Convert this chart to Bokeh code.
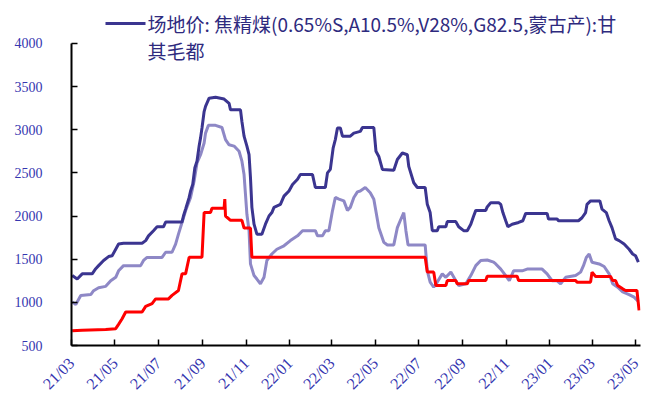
import math
import pandas as pd
from bokeh.plotting import figure
from bokeh.models import (Range1d, FixedTicker, DatetimeTickFormatter, Label, BoxAnnotation)
from bokeh.embed import file_html
from bokeh.resources import INLINE

legend_line1 = "场地价: 焦精煤(0.65%S,A10.5%,V28%,G82.5,蒙古产):甘"
legend_line2 = "其毛都"

tick_dates = ["2021-03-01", "2021-05-01", "2021-07-01", "2021-09-01", "2021-11-01",
              "2022-01-01", "2022-03-01", "2022-05-01", "2022-07-01", "2022-09-01",
              "2022-11-01", "2023-01-01", "2023-03-01", "2023-05-01"]
y_ticks = [500, 1000, 1500, 2000, 2500, 3000, 3500, 4000]

# 场地价 甘其毛都 (dark)
dark_dates = ["2021-03-02", "2021-03-09", "2021-03-16", "2021-03-30", "2021-04-04", "2021-04-08",
              "2021-04-15", "2021-04-22", "2021-04-27", "2021-05-02", "2021-05-06", "2021-05-13",
              "2021-06-08", "2021-06-13", "2021-06-17", "2021-06-24", "2021-06-29", "2021-07-08",
              "2021-07-11", "2021-08-03", "2021-08-05", "2021-08-08", "2021-08-13", "2021-08-15",
              "2021-08-18", "2021-08-21", "2021-08-24", "2021-08-27", "2021-08-29", "2021-08-31",
              "2021-09-03", "2021-09-05", "2021-09-10", "2021-09-19", "2021-10-01", "2021-10-08",
              "2021-10-10", "2021-10-24", "2021-10-26", "2021-10-29", "2021-11-02", "2021-11-05",
              "2021-11-07", "2021-11-09", "2021-11-12", "2021-11-16", "2021-11-23", "2021-11-28",
              "2021-12-03", "2021-12-07", "2021-12-10", "2021-12-19", "2021-12-24", "2021-12-31",
              "2022-01-05", "2022-01-12", "2022-01-16", "2022-02-02", "2022-02-06", "2022-02-20",
              "2022-02-23", "2022-02-27", "2022-03-03", "2022-03-06", "2022-03-09", "2022-03-13",
              "2022-03-16", "2022-03-27", "2022-04-01", "2022-04-10", "2022-04-13", "2022-04-29",
              "2022-05-02", "2022-05-06", "2022-05-11", "2022-05-27", "2022-06-01", "2022-06-08",
              "2022-06-15", "2022-06-17", "2022-06-24", "2022-06-29", "2022-07-10", "2022-07-13",
              "2022-07-17", "2022-07-20", "2022-07-27", "2022-07-29", "2022-08-08", "2022-08-10",
              "2022-08-22", "2022-08-26", "2022-09-02", "2022-09-07", "2022-09-12", "2022-09-16",
              "2022-09-19", "2022-10-03", "2022-10-05", "2022-10-10", "2022-10-21", "2022-10-24",
              "2022-10-27", "2022-10-31", "2022-11-03", "2022-11-09", "2022-11-18", "2022-11-24",
              "2022-11-28", "2022-12-28", "2022-12-30", "2023-01-11", "2023-01-13", "2023-02-10",
              "2023-02-15", "2023-02-20", "2023-02-22", "2023-02-27", "2023-03-12", "2023-03-15",
              "2023-03-21", "2023-03-25", "2023-03-29", "2023-04-03", "2023-04-08", "2023-04-15",
              "2023-04-22", "2023-04-27", "2023-05-01", "2023-05-05"]
dark_vals = [1310, 1270, 1330, 1330, 1390, 1425, 1485, 1530, 1540, 1615, 1675, 1685,
             1685, 1715, 1770, 1830, 1875, 1875, 1930, 1930, 2000, 2080, 2215, 2290,
             2365, 2560, 2635, 2810, 2905, 3020, 3210, 3270, 3365, 3375, 3355, 3305,
             3230, 3230, 3095, 2925, 2810, 2710, 2445, 2100, 1905, 1790, 1790, 1905,
             2000, 2040, 2100, 2135, 2230, 2290, 2365, 2425, 2480, 2480, 2330, 2330,
             2500, 2540, 2790, 2885, 3020, 3020, 2925, 2925, 2960, 2980, 3025, 3025,
             2750, 2690, 2540, 2530, 2655, 2730, 2710, 2575, 2385, 2330, 2330, 2135,
             2040, 1830, 1830, 1875, 1875, 1935, 1935, 1875, 1830, 1830, 1905, 2000,
             2065, 2065, 2105, 2155, 2155, 2135, 2040, 1945, 1875, 1905, 1925, 1945,
             2030, 2030, 1965, 1965, 1945, 1945, 1980, 2040, 2135, 2175, 2175, 2080,
             2040, 1945, 1865, 1735, 1715, 1675, 1615, 1560, 1540, 1465]

# second series (light)
light_dates = ["2021-03-02", "2021-03-07", "2021-03-14", "2021-03-28", "2021-04-01", "2021-04-08",
               "2021-04-18", "2021-04-25", "2021-05-02", "2021-05-06", "2021-05-13", "2021-06-06",
               "2021-06-10", "2021-06-15", "2021-07-06", "2021-07-11", "2021-07-20", "2021-07-25",
               "2021-07-29", "2021-08-03", "2021-08-08", "2021-08-15", "2021-08-20", "2021-08-24",
               "2021-08-29", "2021-09-03", "2021-09-05", "2021-09-09", "2021-09-19", "2021-09-28",
               "2021-10-03", "2021-10-08", "2021-10-15", "2021-10-22", "2021-10-26", "2021-10-29",
               "2021-10-31", "2021-11-02", "2021-11-05", "2021-11-07", "2021-11-12", "2021-11-16",
               "2021-11-21", "2021-11-26", "2021-11-30", "2021-12-07", "2021-12-14", "2021-12-24",
               "2022-01-02", "2022-01-12", "2022-01-19", "2022-02-06", "2022-02-09", "2022-02-16",
               "2022-02-20", "2022-02-25", "2022-03-02", "2022-03-06", "2022-03-11", "2022-03-18",
               "2022-03-23", "2022-03-27", "2022-04-01", "2022-04-06", "2022-04-10", "2022-04-17",
               "2022-04-24", "2022-04-29", "2022-05-06", "2022-05-13", "2022-05-18", "2022-05-27",
               "2022-06-01", "2022-06-05", "2022-06-10", "2022-06-13", "2022-06-16", "2022-07-10",
               "2022-07-13", "2022-07-17", "2022-07-22", "2022-07-27", "2022-08-03", "2022-08-08",
               "2022-08-15", "2022-08-22", "2022-08-26", "2022-09-05", "2022-09-12", "2022-09-19",
               "2022-09-26", "2022-10-05", "2022-10-14", "2022-10-17", "2022-10-24", "2022-10-31",
               "2022-11-05", "2022-11-11", "2022-11-23", "2022-11-30", "2022-12-21", "2022-12-28",
               "2023-01-04", "2023-01-11", "2023-01-16", "2023-01-23", "2023-02-06", "2023-02-13",
               "2023-02-17", "2023-02-21", "2023-02-25", "2023-03-01", "2023-03-11", "2023-03-18",
               "2023-03-25", "2023-03-30", "2023-04-06", "2023-04-13", "2023-04-22", "2023-04-29",
               "2023-05-05"]
light_vals = [1005, 975, 1080, 1090, 1135, 1170, 1185, 1250, 1290, 1365, 1425, 1425,
              1485, 1520, 1520, 1580, 1580, 1675, 1790, 1925, 2060, 2215, 2405, 2615,
              2710, 2845, 2960, 3050, 3050, 3025, 2885, 2825, 2810, 2750, 2635, 2480,
              2250, 2020, 1830, 1445, 1310, 1270, 1215, 1290, 1485, 1560, 1615, 1655,
              1715, 1770, 1830, 1830, 1770, 1770, 1830, 1830, 2060, 2215, 2195, 2175,
              2065, 2100, 2215, 2280, 2290, 2330, 2270, 2195, 1865, 1695, 1665, 1665,
              1865, 1945, 2040, 1830, 1665, 1665, 1365, 1235, 1175, 1235, 1330, 1290,
              1350, 1250, 1195, 1215, 1310, 1425, 1485, 1490, 1465, 1445, 1385, 1310,
              1250, 1365, 1365, 1385, 1385, 1330, 1250, 1250, 1215, 1290, 1310, 1350,
              1425, 1520, 1560, 1465, 1445, 1415, 1330, 1215, 1175, 1120, 1090, 1060,
              1010]

# third series (red)
red_dates = ["2021-03-02", "2021-03-16", "2021-04-18", "2021-05-02", "2021-05-06", "2021-05-11",
             "2021-05-16", "2021-06-08", "2021-06-13", "2021-06-22", "2021-06-27", "2021-07-15",
             "2021-07-20", "2021-07-29", "2021-08-03", "2021-08-08", "2021-08-13", "2021-08-31",
             "2021-09-03", "2021-09-12", "2021-09-14", "2021-10-01", "2021-10-02", "2021-10-03",
             "2021-10-10", "2021-10-26", "2021-10-29", "2021-11-07", "2021-11-09", "2022-07-10",
             "2022-07-13", "2022-07-22", "2022-07-25", "2022-08-08", "2022-08-10", "2022-08-22",
             "2022-08-24", "2022-09-07", "2022-09-09", "2022-10-03", "2022-10-05", "2022-11-16",
             "2022-11-18", "2023-02-06", "2023-02-08", "2023-02-27", "2023-03-01", "2023-03-06",
             "2023-03-27", "2023-03-30", "2023-04-03", "2023-04-06", "2023-04-13", "2023-04-17",
             "2023-05-03", "2023-05-06"]
red_vals = [670, 678, 685, 695, 745, 810, 888, 888, 953, 985, 1040, 1040,
            1080, 1137, 1330, 1330, 1522, 1522, 2040, 2040, 2090, 2090, 2195, 2000,
            1950, 1950, 1860, 1860, 1522, 1522, 1350, 1350, 1195, 1195, 1252, 1252,
            1214, 1214, 1252, 1252, 1303, 1303, 1252, 1252, 1234, 1234, 1350, 1300,
            1300, 1252, 1252, 1195, 1156, 1137, 1137, 907]

DARK = "#3b3590"
LIGHT = "#8e88c6"
RED = "#ff0000"
TXT = "#3636b0"

x_start = pd.Timestamp("2021-03-01")
x_end = pd.Timestamp("2023-05-08")
# frame extends above 4000 so that the legend (inside the frame) has room
p = figure(width=664, height=401, output_backend="svg", toolbar_location=None,
           x_axis_type="datetime",
           x_range=Range1d(x_start, x_end),
           y_range=Range1d(500, 4450),
           min_border_left=71, min_border_right=24, min_border_top=4, min_border_bottom=54)
p.outline_line_color = None
p.xgrid.visible = False
p.ygrid.visible = False
p.background_fill_color = "white"

p.line(pd.to_datetime(light_dates), light_vals, color=LIGHT, line_width=3)
p.line(pd.to_datetime(dark_dates), dark_vals, color=DARK, line_width=3)
p.line(pd.to_datetime(red_dates), red_vals, color=RED, line_width=3)

xa = p.xaxis[0]
xa.ticker = FixedTicker(ticks=[pd.Timestamp(d).value / 1e6 for d in tick_dates])
fmt = "%y/%m"
xa.formatter = DatetimeTickFormatter(years=fmt, months=fmt, days=fmt, hours=fmt, minutes=fmt,
                                     seconds=fmt, milliseconds=fmt, microseconds=fmt)
xa.major_label_orientation = math.pi / 4
ya = p.yaxis[0]
ya.ticker = FixedTicker(ticks=y_ticks)
ya.bounds = (y_ticks[0], y_ticks[-1])

for ax in (xa, ya):
    ax.axis_line_color = "black"
    ax.axis_line_width = 2
    ax.major_tick_line_color = "black"
    ax.major_tick_line_width = 1.5
    ax.major_tick_in = 6
    ax.major_tick_out = 0
    ax.minor_tick_line_color = None
    ax.major_label_text_font = "Liberation Serif"
    ax.major_label_text_color = TXT
ya.major_label_text_font_size = "14px"
xa.major_label_text_font_size = "16px"
ya.major_label_standoff = 29
xa.major_label_standoff = 15

# legend drawn by hand (frame-relative screen units)
p.add_layout(BoxAnnotation(left=34, right=74, bottom=320.5, top=323.5,
                           left_units="screen", right_units="screen",
                           bottom_units="screen", top_units="screen",
                           fill_color=DARK, fill_alpha=1, line_color=None))
for txt, yy in ((legend_line1, 322), (legend_line2, 295)):
    p.add_layout(Label(x=76, y=yy, x_units="screen", y_units="screen", text=txt,
                       text_font="Noto Sans CJK SC", text_font_size="19px",
                       text_color="#2e2a7e", text_baseline="middle", text_align="left"))

open("out.html", "w").write(file_html(p, INLINE))
